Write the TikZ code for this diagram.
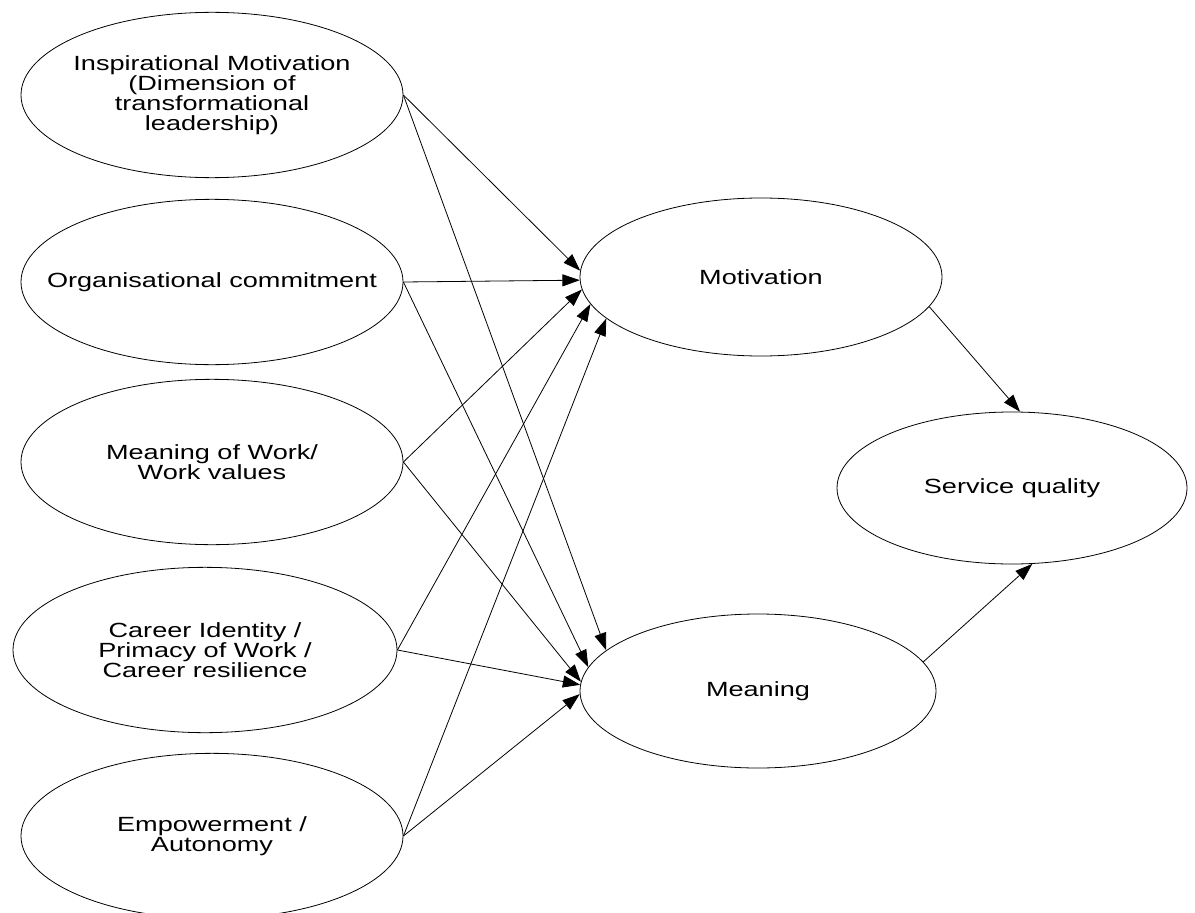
\documentclass[tikz,border=0pt]{standalone}
\usepackage{fontspec}
\setmainfont{Liberation Sans}[FakeStretch=1.32]
\usetikzlibrary{shapes.geometric, arrows.meta}

\begin{document}
\begin{tikzpicture}[x=0.75pt, y=-0.75pt,
    font=\fontsize{15.4}{15}\selectfont,
    construct/.style={draw, ellipse, line width=0.6pt, inner sep=0pt},
    link/.style={line width=0.6pt, -{Triangle[length=13pt, width=9pt]}}]
    \useasboundingbox (0, 0) rectangle (1195, 913);

    % Predictors
    \path (212, 95) node [construct, minimum width=286.5pt, minimum height=124pt,
          label={[align=center]center:Inspirational Motivation\\(Dimension of\\transformational\\leadership)}] (insp) {};
    \path (212, 282) node [construct, minimum width=286.5pt, minimum height=124pt,
          label={center:Organisational commitment}] (org) {};
    \path (212, 462) node [construct, minimum width=286.5pt, minimum height=124pt,
          label={[align=center]center:Meaning of Work/\\Work values}] (work) {};
    \path (205, 650) node [construct, minimum width=288pt, minimum height=124pt,
          label={[align=center]center:Career Identity /\\Primacy of Work /\\Career resilience}] (career) {};
    \path (212, 836) node [construct, minimum width=286.5pt, minimum height=124pt,
          label={[align=center]center:Empowerment /\\Autonomy}] (empow) {};

    % Mediators
    \path (761, 277) node [construct, minimum width=271.5pt, minimum height=118.5pt,
          label={center:Motivation}] (motiv) {};
    \path (758, 691) node [construct, minimum width=267pt, minimum height=115.5pt,
          label={center:Meaning}] (mean) {};

    % Outcome
    \path (1012, 488) node [construct, minimum width=262.5pt, minimum height=114pt,
          label={center:Service quality}] (servq) {};

    % Paths
    \foreach \src/\a/\b in {insp/178.8/165.7, org/181.5/172.7, work/184.7/177.3,
                            career/189.3/178.9, empow/195.9/181.6} {
        \draw [link] (\src.east) -- (motiv.\a);
        \draw [link] (\src.east) -- (mean.\b);
    }
    \draw [link] (motiv.350) -- (servq.84);
    \draw [link] (mean.10) -- (servq.285);
\end{tikzpicture}
\end{document}
